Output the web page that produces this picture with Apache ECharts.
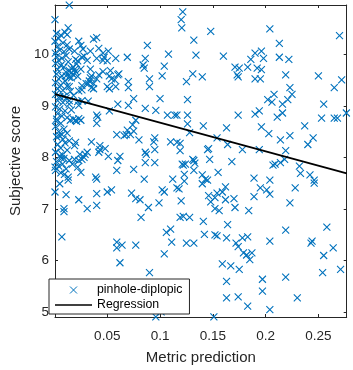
<!DOCTYPE html>
<html><head><meta charset="utf-8">
<script src="https://cdn.jsdelivr.net/npm/echarts@6/dist/echarts.min.js"></script>
<style>html,body{margin:0;padding:0;background:#fff}#c{width:353px;height:370px}</style>
</head><body><div id="c"></div>
<script>
const seriesNames = ['pinhole-diplopic', 'Regression'];
const xAxisName = 'Metric prediction';
const yAxisName = 'Subjective score';
const xRange = [0.0005, 0.2768];
const yRange = [4.909, 10.952];
const xTicks = [0.05, 0.1, 0.15, 0.2, 0.25];
const yTicks = [5, 6, 7, 8, 9, 10];
const regressionX = [0.0005, 0.2768];
const regressionY = [9.225, 7.689];
// [metric prediction, subjective score]
const pinholeDiplopic = [
[0.0005,10.67],[0.014,10.95],[0.013,10.51],[0.012,10.38],
[0.002,10.40],[0.006,10.37],[0.010,10.42],[0.004,10.30],[0.0005,10.25],[0.008,10.22],[0.003,10.15],[0.012,10.18],[0.005,10.08],[0.0008,10.02],[0.009,10.05],[0.014,10.10],[0.002,9.95],[0.007,9.92],[0.011,9.97],[0.004,9.88],[0.001,9.82],[0.013,9.85],[0.006,9.78],[0.009,9.75],[0.003,9.70],[0.016,9.72],[0.011,9.65],[0.002,9.62],[0.007,9.58],[0.014,9.55],[0.004,9.52],[0.010,9.48],[0.001,9.45],[0.018,9.60],[0.020,9.66],[0.022,9.57],[0.006,9.40],[0.012,9.38],[0.003,9.33],[0.008,9.30],[0.015,9.28],[0.001,9.22],[0.005,9.18],[0.011,9.15],[0.018,9.20],[0.003,9.10],[0.008,9.06],[0.014,9.03],[0.022,9.08],
[0.001,8.98],[0.005,8.94],[0.010,8.90],[0.016,8.92],[0.003,8.85],[0.007,8.80],[0.002,8.74],[0.012,8.77],[0.015,8.72],[0.018,8.74],[0.020,8.72],[0.023,8.75],[0.021,8.70],[0.025,8.72],[0.006,8.66],[0.001,8.60],[0.009,8.55],[0.004,8.50],[0.012,8.47],[0.002,8.40],[0.008,8.35],[0.010,8.28],[0.003,8.25],[0.006,8.18],[0.012,8.14],[0.001,8.10],[0.005,8.03],[0.009,7.98],[0.002,7.92],[0.004,7.83],[0.011,7.78],[0.001,7.75],[0.006,7.70],[0.013,7.62],
[0.017,7.87],[0.014,7.94],[0.029,8.06],[0.026,7.96],[0.025,7.71],[0.0005,7.81],[0.0076,7.87],[0.0094,7.67],[0.0067,7.98],[0.0076,8.05],[0.005,8.42],[0.007,8.44],[0.014,8.32],[0.019,8.23],[0.002,8.70],
[0.026,9.94],[0.021,9.81],[0.020,9.90],[0.019,9.70],[0.034,9.71],[0.053,9.68],[0.011,9.58],[0.016,9.54],[0.035,9.58],[0.032,9.43],[0.023,9.29],[0.037,9.33],[0.014,9.37],[0.050,9.37],[0.026,9.10],[0.032,9.09],[0.014,9.10],[0.009,9.18],[0.023,9.01],[0.040,8.66],
[0.023,10.25],[0.025,10.17],[0.019,10.06],[0.027,10.10],[0.037,10.29],[0.040,10.32],[0.042,10.11],[0.034,10.06],[0.051,10.06],[0.046,10.02],[0.040,9.92],[0.047,9.94],[0.046,9.88],[0.050,9.87],[0.058,9.92],[0.031,9.88],[0.028,9.96],[0.022,9.87],[0.025,9.71],[0.018,9.75],[0.014,9.68],[0.016,9.64],[0.034,9.54],[0.033,9.48],[0.030,9.43],[0.026,9.39],[0.026,9.31],[0.037,9.43],[0.040,9.52],[0.042,9.60],[0.035,9.35],[0.046,9.66],[0.052,9.58],[0.054,9.52],[0.057,9.50],[0.058,9.37],[0.052,9.33],[0.060,9.60],[0.061,9.62],[0.060,9.03],[0.069,9.94],[0.070,9.47],[0.070,9.35],[0.086,9.92],[0.088,10.17],[0.084,9.79],[0.085,9.73],[0.090,9.52],[0.090,9.37],[0.108,10.00],[0.104,9.77],[0.102,9.58],[0.100,9.14],[0.086,8.95],[0.096,8.91],[0.107,8.82],[0.114,8.82],[0.075,9.14],[0.070,9.01],[0.040,8.82],[0.041,8.78],[0.052,8.90],[0.077,8.72],[0.074,8.63],[0.069,8.53],[0.075,8.51],[0.072,8.44],[0.066,8.42],[0.080,8.34],[0.059,8.44],[0.068,8.44],[0.095,8.38],[0.094,8.30],[0.095,8.15],[0.086,8.10],[0.110,8.30],[0.119,8.27],[0.119,8.13],[0.121,7.87],[0.095,7.90],[0.086,7.90],[0.087,8.06],[0.075,7.77],[0.062,8.02],[0.060,7.94],[0.051,8.02],[0.043,8.23],[0.043,8.15],[0.048,8.17],[0.042,8.10],[0.035,8.30],[0.031,8.10],[0.028,8.00],[0.023,7.94],[0.022,7.81],[0.019,7.96],[0.024,8.06],[0.039,7.62],[0.059,7.75],[0.020,8.29],
[0.0005,7.33],[0.005,7.49],[0.013,7.56],[0.011,7.28],[0.009,7.01],[0.009,6.95],[0.007,6.46],[0.023,7.18],[0.031,7.01],[0.040,7.07],[0.040,7.30],[0.040,7.58],[0.050,7.33],[0.054,7.37],[0.073,7.31],[0.077,7.20],[0.081,7.18],[0.085,7.58],[0.082,6.84],[0.089,7.03],[0.099,7.12],[0.102,7.37],[0.104,7.33],[0.116,7.41],[0.122,6.86],[0.059,6.36],[0.059,6.25],[0.064,6.30],[0.077,6.30],[0.062,5.96],[0.090,5.77],[0.106,6.55],[0.110,6.61],[0.111,6.36],[0.104,6.13],[0.096,4.91],[0.101,5.01],[0.123,7.54],[0.112,7.58],
[0.1215,10.82],[0.120,10.67],[0.1206,10.51],[0.148,10.44],[0.204,10.49],[0.270,10.36],[0.132,10.27],[0.213,10.21],[0.134,9.98],[0.160,9.96],[0.190,10.02],[0.196,10.06],[0.186,9.90],[0.198,9.92],[0.213,9.94],[0.222,9.90],[0.171,9.75],[0.175,9.73],[0.183,9.75],[0.192,9.73],[0.196,9.70],[0.173,9.60],[0.174,9.56],[0.190,9.52],[0.195,9.52],[0.219,9.60],[0.250,9.58],[0.272,9.50],[0.131,9.62],[0.140,9.56],[0.125,9.47],[0.265,9.35],[0.223,9.35],[0.225,9.22],[0.126,9.12],[0.202,9.12],[0.208,9.22],[0.206,9.07],[0.216,9.03],[0.221,9.12],[0.255,9.03],[0.116,8.82],[0.126,8.82],[0.174,8.82],[0.190,8.84],[0.194,8.90],[0.211,8.78],[0.216,8.86],[0.253,8.76],[0.265,8.76],[0.268,8.76],[0.2765,8.86],[0.126,8.65],[0.141,8.61],[0.163,8.57],[0.196,8.59],[0.237,8.61],[0.128,8.48],[0.203,8.46],[0.223,8.42],[0.245,8.38],[0.240,8.25],[0.116,8.29],[0.154,8.38],[0.164,8.25],[0.214,8.34],[0.145,8.15],[0.146,8.17],[0.178,8.15],[0.194,8.15],[0.219,8.13],[0.131,7.96],[0.132,7.94],[0.124,7.87],[0.122,7.85],[0.133,7.89],[0.147,7.96],[0.168,7.92],[0.207,7.85],[0.209,7.87],[0.214,7.90],[0.218,7.96],[0.232,7.83],[0.123,7.67],[0.132,7.75],[0.140,7.66],[0.143,7.58],[0.155,7.71],[0.189,7.60],[0.204,7.56],[0.233,7.69],[0.242,7.66],[0.246,7.56],
[0.140,7.49],[0.145,7.56],[0.162,7.43],[0.159,7.33],[0.154,7.31],[0.195,7.41],[0.201,7.37],[0.204,7.29],[0.228,7.41],[0.246,7.50],[0.118,7.39],[0.146,7.26],[0.152,7.22],[0.148,7.14],[0.162,7.18],[0.170,7.20],[0.189,7.24],[0.120,7.16],[0.171,7.03],[0.152,7.01],[0.156,6.97],[0.184,6.97],[0.223,7.12],[0.119,6.84],[0.128,6.84],[0.141,6.76],[0.164,6.70],[0.219,6.59],[0.258,6.65],[0.125,6.34],[0.132,6.34],[0.142,6.51],[0.152,6.50],[0.154,6.48],[0.163,6.44],[0.172,6.34],[0.174,6.27],[0.178,6.44],[0.183,6.46],[0.179,6.15],[0.182,6.11],[0.185,6.02],[0.187,6.15],[0.204,6.38],[0.243,6.34],[0.244,6.38],[0.264,6.25],[0.255,6.10],[0.159,5.94],[0.167,5.90],[0.175,5.83],[0.197,5.64],[0.163,5.60],[0.219,5.68],[0.254,5.77],[0.271,5.83],[0.197,5.41],[0.163,5.28],[0.174,5.30],[0.230,5.28],[0.183,5.12],[0.204,5.05],[0.151,4.91]
];

const axisColor = '#262626';
const font = 'Liberation Sans, Arial, Helvetica, sans-serif';
const chart = echarts.init(document.getElementById('c'), null, {renderer: 'canvas'});

function baseAxis(range, ticks, pos, showLabel) {
  return {
    type: 'value', min: range[0], max: range[1], position: pos,
    axisLine: {show: true, onZero: false, lineStyle: {color: axisColor, width: 1}},
    axisTick: {show: true, inside: true, length: 3, customValues: ticks, lineStyle: {color: axisColor, width: 1}},
    axisLabel: {show: showLabel, customValues: ticks, color: axisColor, fontSize: 13.5, fontFamily: font,
      formatter: v => String(v)},
    splitLine: {show: false}
  };
}

const xBottom = Object.assign(baseAxis(xRange, xTicks, 'bottom', true), {
  name: xAxisName, nameLocation: 'middle', nameGap: 33,
  nameTextStyle: {color: axisColor, fontSize: 15, fontFamily: font}
});
xBottom.axisLabel.margin = 12;
const xTop = baseAxis(xRange, xTicks, 'top', false);
const yLeft = Object.assign(baseAxis(yRange, yTicks, 'left', true), {
  name: yAxisName, nameLocation: 'middle', nameGap: 32, nameRotate: 90,
  nameTextStyle: {color: axisColor, fontSize: 15, fontFamily: font}
});
yLeft.axisLabel.margin = 6;
const yRight = baseAxis(yRange, yTicks, 'right', false);

chart.setOption({
  animation: false,
  backgroundColor: '#ffffff',
  grid: {left: 43.3, right: 6.3, top: 5, bottom: 47.7, containLabel: false},
  xAxis: [xBottom, xTop],
  yAxis: [yLeft, yRight],
  legend: {
    data: [
      {name: seriesNames[0], itemStyle: {borderWidth: 1, borderColor: '#0072BD'}},
      {name: seriesNames[1], icon: 'path://M0,0L40,0L40,1.8L0,1.8Z', itemStyle: {borderWidth: 0}}
    ],
    orient: 'vertical', left: 49, top: 279,
    padding: [5, 7, 3, 6], itemGap: 3, itemWidth: 37, itemHeight: 7,
    backgroundColor: '#ffffff', borderColor: axisColor, borderWidth: 1, borderRadius: 0,
    textStyle: {fontSize: 12.3, color: '#000', fontFamily: font},
    selectedMode: false
  },
  series: [
    {
      name: seriesNames[0], type: 'scatter', xAxisIndex: 0, yAxisIndex: 0,
      data: pinholeDiplopic,
      symbol: 'path://M0,0L10,10M10,0L0,10', symbolSize: 7, symbolKeepAspect: true,
      itemStyle: {color: '#0072BD', borderColor: '#0072BD', borderWidth: 1.1, opacity: 1},
      clip: false, silent: true
    },
    {
      name: seriesNames[1], type: 'line', xAxisIndex: 0, yAxisIndex: 0,
      data: regressionX.map((x, i) => [x, regressionY[i]]),
      symbol: 'none', showSymbol: false,
      lineStyle: {color: '#000000', width: 1.8},
      itemStyle: {color: '#000000', borderWidth: 0},
      z: 3, silent: true
    }
  ]
});
</script></body></html>
